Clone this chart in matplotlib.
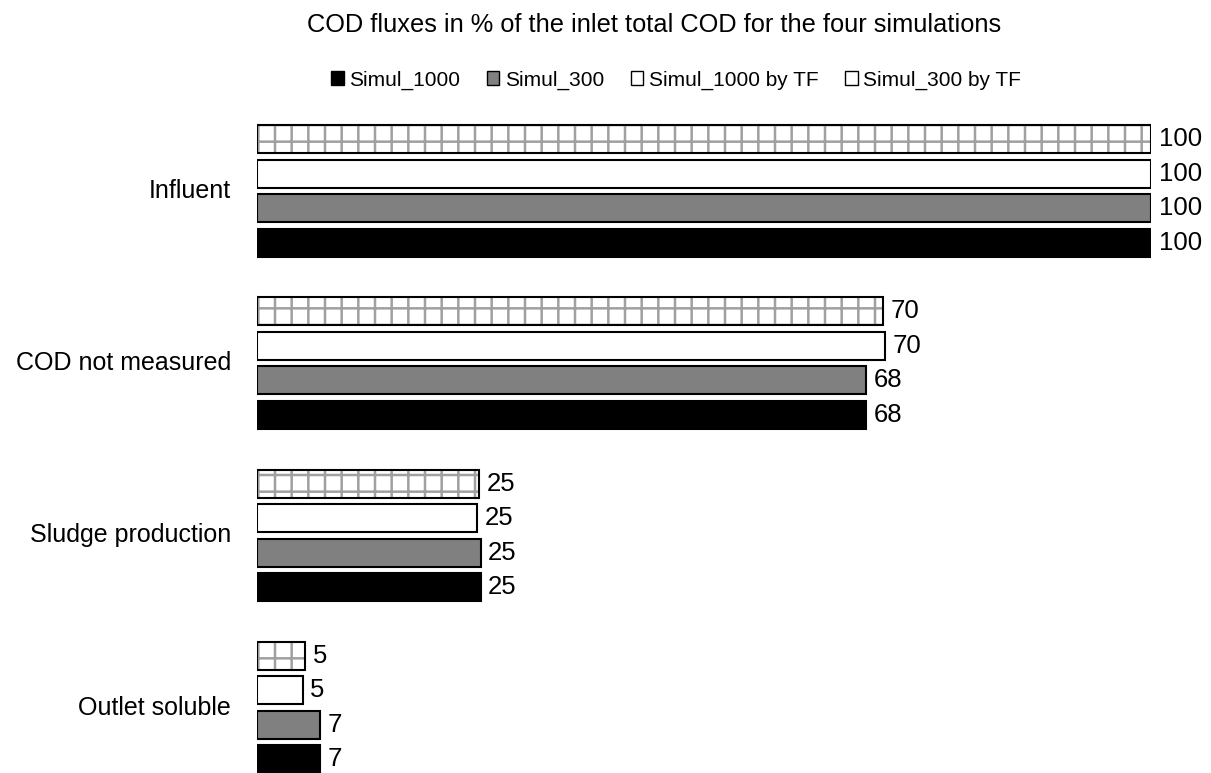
import numpy as np
import matplotlib.pyplot as plt
from matplotlib.patches import Patch

plt.rcParams['font.family'] = ['Liberation Sans', 'DejaVu Sans']
plt.rcParams['hatch.linewidth'] = 1.8

categories = ['Influent', 'COD not measured', 'Sludge production', 'Outlet soluble']
series = ['Simul_1000', 'Simul_300', 'Simul_1000 by TF', 'Simul_300 by TF']
simul_1000 = [100, 68.1, 25.0, 7.0]
simul_300 = [100, 68.1, 25.0, 7.0]
simul_1000_tf = [100, 70.2, 24.6, 5.1]
simul_300_tf = [100, 70.0, 24.8, 5.4]

values = [simul_1000, simul_300, simul_1000_tf, simul_300_tf]
faces = ['black', '#808080', 'white', 'white']
# position of each series inside its group, counted from the top
slot = [3, 2, 1, 0]

fig = plt.figure(figsize=(12.11, 7.73), dpi=100)
ax = fig.add_axes([257 / 1211, 0, (1151 - 257) / 1211, (773 - 122) / 773])

for k in range(4):
    y = np.arange(len(categories)) * 5 + slot[k]
    if k == 3:
        # grey grid hatch first, then the black outline on top
        ax.barh(y, values[k], height=0.81, color='white', edgecolor='#a0a0a0',
                linewidth=0, hatch='+')
        bars = ax.barh(y, values[k], height=0.81, color='none', edgecolor='black',
                       linewidth=1.5)
    else:
        bars = ax.barh(y, values[k], height=0.81, color=faces[k], edgecolor='black',
                       linewidth=1.5)
    for b, v in zip(bars, values[k]):
        ax.text(b.get_width() + 0.85, b.get_y() + b.get_height() / 2, f'{v:.0f}',
                va='center', ha='left', fontsize=18.5)

for i, c in enumerate(categories):
    ax.text(-2.9, i * 5 + 1.5, c, ha='right', va='center', fontsize=18)

ax.set_xlim(0, 100)
ax.set_ylim(18.4, -0.5)
ax.axis('off')

fig.text(654 / 1211, 1 - 32 / 773, 'COD fluxes in % of the inlet total COD for the four simulations',
         ha='center', va='baseline', fontsize=18.3)

handles = [Patch(facecolor=faces[k], edgecolor='black', linewidth=1) for k in range(4)]
fig.legend(handles, series, loc='center', bbox_to_anchor=(676 / 1211, 1 - 80 / 773), ncol=4,
           frameon=False, fontsize=15, handlelength=0.6, handleheight=0.6,
           handletextpad=0.25, columnspacing=1.3, borderpad=0)

fig.savefig('out.png', dpi=100)
